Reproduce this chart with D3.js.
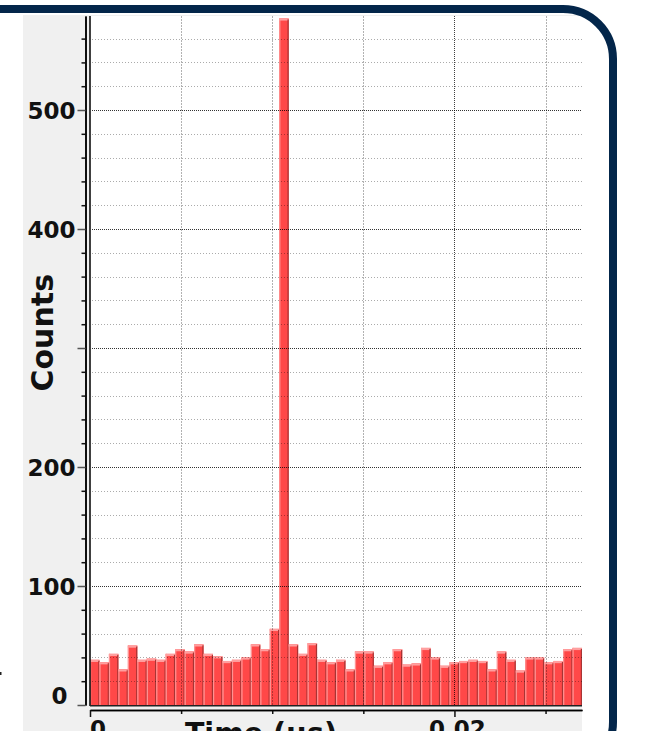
<!DOCTYPE html>
<html>
<head>
<meta charset="utf-8">
<script src="https://cdn.jsdelivr.net/npm/d3@7/dist/d3.min.js"></script>
<style>
  html, body { margin: 0; padding: 0; background: #ffffff; }
  svg { display: block; }
  text { font-family: "DejaVu Sans", Verdana, sans-serif; font-weight: bold; fill: #111; }
</style>
</head>
<body>
<svg id="chart" width="655" height="731"></svg>
<script>
// Histogram of arrival times: counts per time bin
const timeMax = 0.027;          // μs, full x extent
const binCount = 52;
const counts = [38, 36, 43, 30, 50, 38, 39, 38, 43, 47, 45, 51, 43, 41, 37, 38, 40, 51, 47, 64,
                577, 51, 43, 52, 38, 36, 38, 30, 45, 45, 33, 36, 47, 34, 35, 48, 40, 33, 36, 37,
                38, 37, 30, 45, 38, 29, 40, 40, 36, 37, 47, 48];
const countMax = 579;

const yMajorTicks = [0, 100, 200, 300, 400, 500];
const yLabelTicks = [0, 100, 200, 400, 500];
const yMinorTicks = d3.range(20, 580, 20).filter(v => v % 100 !== 0);
const xMajorTicks = [0, 0.02];
const xMinorTicks = [0.005, 0.01, 0.015, 0.025];
const xLabels = ["0", "0.02"];
const xTitle = "Time (μs)";
const yTitle = "Counts";

const svg = d3.select("#chart");
const W = 655, H = 731;
const plot = { left: 90, right: 582, top: 16, bottom: 705 };

const x = d3.scaleLinear().domain([0, timeMax]).range([plot.left, plot.right]);
const y = d3.scaleLinear().domain([0, countMax]).range([plot.bottom, plot.top]);
const binW = timeMax / binCount;

// panel background
svg.append("rect").attr("x", 23).attr("y", 15).attr("width", plot.right - 23).attr("height", H - 15)
  .attr("fill", "#f0f0f0");
svg.append("rect").attr("x", plot.left).attr("y", plot.top)
  .attr("width", plot.right - plot.left).attr("height", plot.bottom - plot.top)
  .attr("fill", "#ffffff");

// bars with bevelled edges
const bars = svg.append("g").selectAll("g").data(counts).join("g");
bars.each(function (d, i) {
  const g = d3.select(this);
  const x0 = x(i * binW), x1 = x((i + 1) * binW);
  const top = y(d), w = x1 - x0, h = plot.bottom - top;
  g.append("rect").attr("x", x0).attr("y", top).attr("width", w).attr("height", h).attr("fill", "#ff4848");
  g.append("rect").attr("x", x0).attr("y", top).attr("width", 1.2).attr("height", h).attr("fill", "#ff9292");
  g.append("rect").attr("x", x0).attr("y", top).attr("width", w).attr("height", 2.2).attr("fill", "#ff9f9f");
  g.append("rect").attr("x", x1 - 1.2).attr("y", top + 1).attr("width", 1.2).attr("height", h - 1).attr("fill", "#a83434");
});

// grid lines, drawn over the bars
const grid = svg.append("g");
grid.selectAll(".hmin").data(yMinorTicks).join("line")
  .attr("x1", plot.left + 2).attr("x2", plot.right)
  .attr("y1", d => Math.round(y(d)) + 0.5).attr("y2", d => Math.round(y(d)) + 0.5)
  .attr("stroke", "#000").attr("stroke-opacity", 0.33).attr("stroke-dasharray", "1,2");
grid.selectAll(".hmaj").data(yMajorTicks.filter(v => v > 0)).join("line")
  .attr("x1", plot.left + 2).attr("x2", plot.right)
  .attr("y1", d => Math.round(y(d)) + 0.5).attr("y2", d => Math.round(y(d)) + 0.5)
  .attr("stroke", "#000").attr("stroke-opacity", 0.8).attr("stroke-dasharray", "1,1");
grid.selectAll(".vmin").data(xMinorTicks).join("line")
  .attr("y1", plot.top).attr("y2", plot.bottom)
  .attr("x1", d => Math.round(x(d)) + 0.5).attr("x2", d => Math.round(x(d)) + 0.5)
  .attr("stroke", "#000").attr("stroke-opacity", 0.3).attr("stroke-dasharray", "2,1");
grid.selectAll(".vmaj").data(xMajorTicks.filter(v => v > 0)).join("line")
  .attr("y1", plot.top).attr("y2", plot.bottom)
  .attr("x1", d => Math.round(x(d)) + 0.5).attr("x2", d => Math.round(x(d)) + 0.5)
  .attr("stroke", "#000").attr("stroke-opacity", 0.75).attr("stroke-dasharray", "1,1");

// plot frame (left and bottom)
svg.append("line").attr("x1", plot.left).attr("x2", plot.left).attr("y1", plot.top).attr("y2", plot.bottom + 1)
  .attr("stroke", "#000").attr("stroke-width", 1.5);
svg.append("line").attr("x1", plot.left).attr("x2", plot.right).attr("y1", plot.bottom + 0.75).attr("y2", plot.bottom + 0.75)
  .attr("stroke", "#222").attr("stroke-width", 1.5);

// y axis
const yAxisX = 85.5;
const yMinorAxis = svg.append("g").attr("transform", `translate(${yAxisX},0)`)
  .call(d3.axisLeft(y).tickValues(yMinorTicks).tickSize(4).tickSizeOuter(0).tickFormat(""));
const yMajorAxis = svg.append("g").attr("transform", `translate(${yAxisX},0)`)
  .call(d3.axisLeft(y).tickValues(yMajorTicks).tickSize(8).tickSizeOuter(0).tickPadding(2)
    .tickFormat(d => yLabelTicks.includes(d) ? d3.format("d")(d) : ""));
[yMinorAxis, yMajorAxis].forEach(a => {
  a.select(".domain").attr("stroke", "#000").attr("stroke-width", 1.5);
  a.selectAll(".tick line").attr("stroke", "#111").attr("stroke-width", 1.5);
});
yMajorAxis.selectAll(".tick line").attr("stroke", "#555");
yMajorAxis.selectAll(".tick text")
  .attr("font-size", 23).attr("font-family", "DejaVu Sans, sans-serif").attr("font-weight", "bold").attr("fill", "#111")
  .attr("dy", d => d === 0 ? "-0.05em" : "0.36em")
  .attr("dx", d => d === 0 ? -8 : 0);

// x axis
const xAxisY = 710;
const xMinorAxis = svg.append("g").attr("transform", `translate(0,${xAxisY})`)
  .call(d3.axisBottom(x).tickValues(xMinorTicks).tickSize(4).tickSizeOuter(0).tickFormat(""));
const xMajorAxis = svg.append("g").attr("transform", `translate(0,${xAxisY})`)
  .call(d3.axisBottom(x).tickValues(xMajorTicks).tickSize(7).tickSizeOuter(0).tickFormat(""));
[xMinorAxis, xMajorAxis].forEach(a => {
  a.select(".domain").attr("stroke", "#000").attr("stroke-width", 1.5);
  a.selectAll(".tick line").attr("stroke", "#111").attr("stroke-width", 1.5);
});
svg.append("g").selectAll("text").data(xMajorTicks).join("text")
  .attr("x", (d, i) => i === 0 ? x(d) : x(d) + 3)
  .attr("y", 737)
  .attr("text-anchor", (d, i) => i === 0 ? "start" : "middle")
  .attr("font-size", 23)
  .text((d, i) => xLabels[i]);

// axis titles
svg.append("text").attr("x", 261).attr("y", 743).attr("text-anchor", "middle")
  .attr("font-size", 28.5).text(xTitle);
svg.append("text").attr("transform", "translate(53,274) rotate(-90)").attr("text-anchor", "end")
  .attr("font-size", 30).text(yTitle);

// stray mark at the left edge
svg.append("rect").attr("x", 0).attr("y", 672).attr("width", 1.5).attr("height", 3).attr("fill", "#222");

// rounded navy frame
svg.append("rect").attr("x", -200).attr("y", 9).attr("width", 813).attr("height", 763).attr("rx", 50)
  .attr("fill", "none").attr("stroke", "#03264a").attr("stroke-width", 8);
</script>
</body>
</html>
